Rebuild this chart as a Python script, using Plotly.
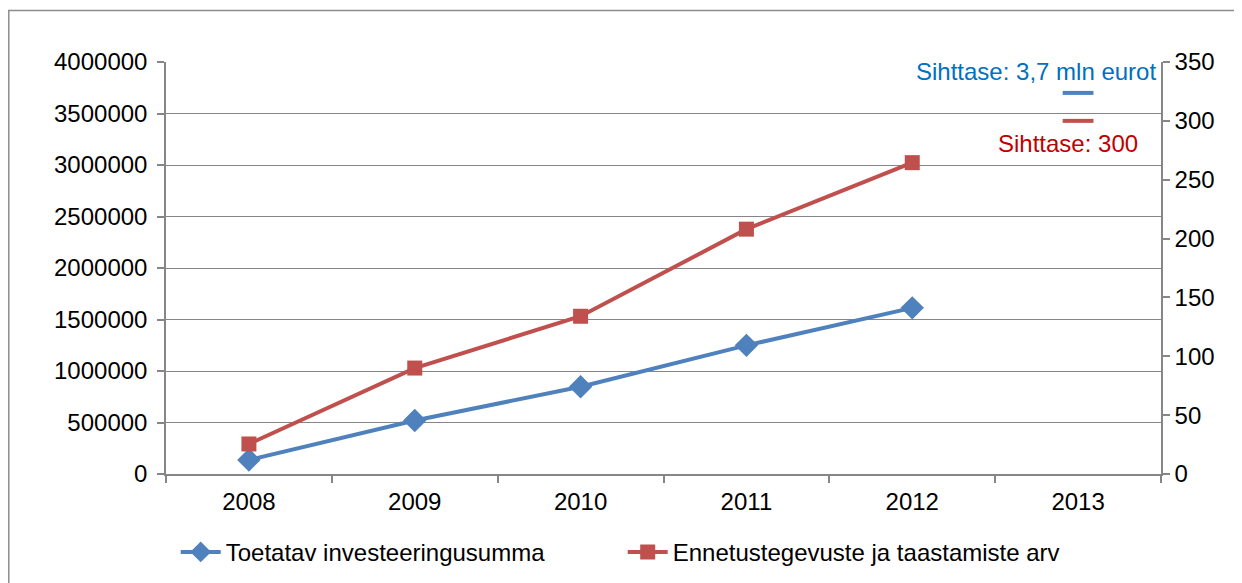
import plotly.graph_objects as go

years = ["2008", "2009", "2010", "2011", "2012", "2013"]
invest_years = ["2008", "2009", "2010", "2011", "2012"]
invest_values = [136000, 519000, 847000, 1249000, 1613000]
count_values = [25.5, 90, 134, 208, 264.5]
target_year = ["2013"]
target_invest = [3700000]
target_count = [300]

blue = "#4F81BD"
red = "#C0504D"
font = "Liberation Sans, Arial, sans-serif"
fs = 24

fig = go.Figure()
fig.add_trace(go.Scatter(
    x=invest_years, y=invest_values, name="Toetatav investeeringusumma",
    mode="lines+markers", line=dict(color=blue, width=4),
    marker=dict(symbol="diamond", size=18, color=blue), yaxis="y"))
fig.add_trace(go.Scatter(
    x=invest_years, y=count_values, name="Ennetustegevuste ja taastamiste arv",
    mode="lines+markers", line=dict(color=red, width=4),
    marker=dict(symbol="square", size=15, color=red), yaxis="y2"))
fig.add_trace(go.Scatter(
    x=target_year, y=target_invest, mode="markers", showlegend=False,
    marker=dict(symbol="line-ew", size=22, line=dict(color=blue, width=4)), yaxis="y"))
fig.add_trace(go.Scatter(
    x=target_year, y=target_count, mode="markers", showlegend=False,
    marker=dict(symbol="line-ew", size=22, line=dict(color=red, width=4)), yaxis="y2"))

target_idx = years.index(target_year[0])
fig.add_annotation(x=target_idx, y=target_invest[0], xref="x", yref="y",
                   text="Sihttase: 3,7 mln eurot", showarrow=False,
                   xanchor="right", yanchor="middle", xshift=80, yshift=21,
                   font=dict(color="#0070C0", size=fs, family=font))
fig.add_annotation(x=target_idx, y=target_count[0], xref="x", yref="y2",
                   text="Sihttase: 300", showarrow=False,
                   xanchor="right", yanchor="middle", xshift=62, yshift=-23,
                   font=dict(color="#C00000", size=fs, family=font))

fig.add_shape(type="rect", xref="paper", yref="paper",
              x0=-0.158, x1=1.1, y0=-0.35, y1=1.125,
              line=dict(color="#8C8C8C", width=1.5), fillcolor="rgba(0,0,0,0)", layer="below")

fig.update_layout(
    width=1242, height=583,
    margin=dict(l=158, r=89, t=54, b=117),
    paper_bgcolor="white", plot_bgcolor="white",
    font=dict(family=font, size=fs, color="black"),
    xaxis=dict(type="category", categoryorder="array", categoryarray=years,
               range=[-0.5, 5.5], showgrid=False, showline=True,
               linecolor="#868686", linewidth=1.5, ticks="outside",
               tickson="boundaries", ticklen=7, tickcolor="#868686", tickwidth=1.5,
               ticklabelstandoff=5),
    yaxis=dict(range=[0, 4000000], dtick=500000, tickformat="d",
               showgrid=True, gridcolor="#868686", gridwidth=1.3,
               showline=True, linecolor="#868686", linewidth=1.5,
               ticks="outside", ticklen=7, tickcolor="#868686", tickwidth=1.5,
               zeroline=False, ticklabelstandoff=5),
    yaxis2=dict(range=[0, 350], dtick=50, overlaying="y", side="right",
                showgrid=False, showline=True, linecolor="#868686", linewidth=1.5,
                ticks="outside", ticklen=7, tickcolor="#868686", tickwidth=1.5,
                zeroline=False),
    legend=dict(orientation="h", x=0.459, xanchor="center", y=-0.19, yanchor="middle",
                font=dict(size=fs, family=font), itemwidth=40,
                entrywidth=392, entrywidthmode="pixels"),
    showlegend=True,
)

fig.write_html("out.html")
